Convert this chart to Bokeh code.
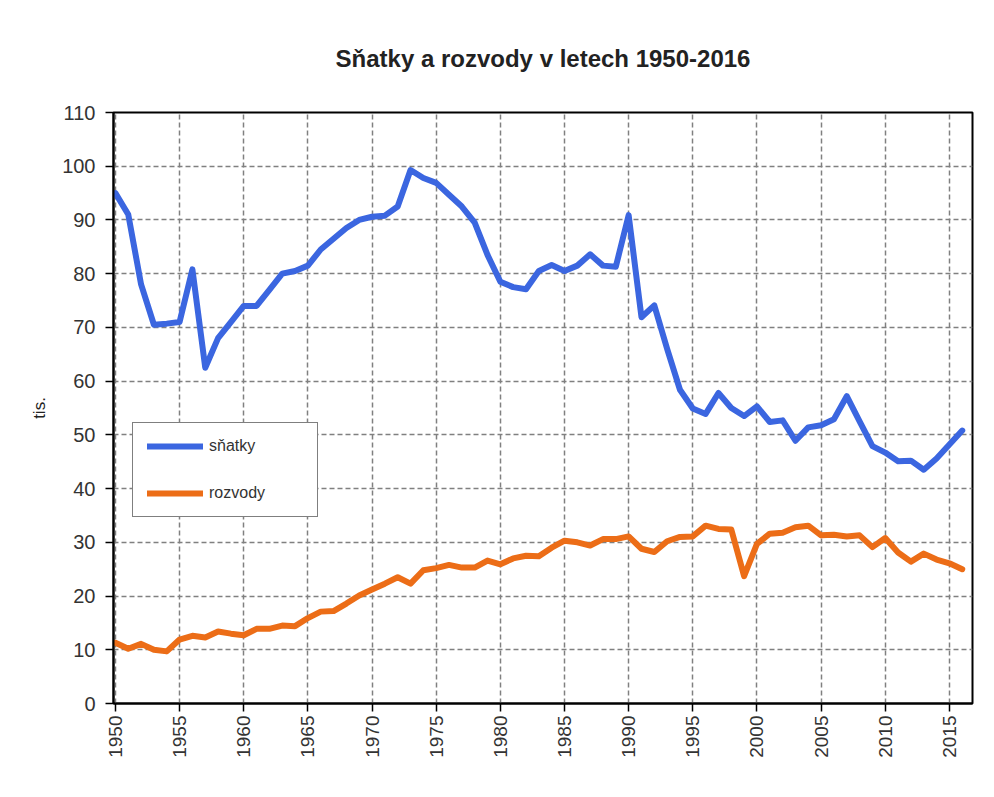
import math
from bokeh.plotting import figure
from bokeh.models import Legend, LegendItem, FixedTicker, Range1d, ColumnDataSource
from bokeh.embed import file_html
from bokeh.resources import INLINE

years = list(range(1950, 2017))
snatky = [95.0, 91.0, 78.0, 70.5, 70.7, 71.0, 80.8, 62.5, 68.0, 71.0,
          74.0, 74.0, 77.0, 80.0, 80.5, 81.5, 84.5, 86.5, 88.5, 90.0,
          90.6, 90.8, 92.5, 99.3, 97.8, 96.9, 94.7, 92.5, 89.5, 83.5,
          78.5, 77.5, 77.1, 80.5, 81.6, 80.5, 81.5, 83.6, 81.5, 81.3,
          90.9, 71.9, 74.1, 66.0, 58.4, 54.9, 53.9, 57.8, 55.0, 53.5,
          55.3, 52.4, 52.7, 48.9, 51.4, 51.8, 52.9, 57.2, 52.5, 47.9,
          46.7, 45.1, 45.2, 43.5, 45.6, 48.2, 50.8]
rozvody = [11.3, 10.2, 11.1, 10.0, 9.7, 11.9, 12.6, 12.3, 13.4, 13.0,
           12.7, 13.9, 13.9, 14.5, 14.4, 15.9, 17.1, 17.2, 18.6, 20.1,
           21.2, 22.3, 23.5, 22.3, 24.8, 25.2, 25.8, 25.3, 25.3, 26.6,
           25.9, 27.0, 27.5, 27.4, 29.0, 30.3, 30.0, 29.4, 30.6, 30.6,
           31.1, 28.8, 28.2, 30.2, 31.0, 31.1, 33.1, 32.5, 32.4, 23.7,
           29.7, 31.6, 31.8, 32.8, 33.1, 31.3, 31.4, 31.1, 31.3, 29.1,
           30.8, 28.1, 26.4, 27.9, 26.8, 26.1, 25.0]
x_ticks = list(range(1950, 2016, 5))
y_ticks = list(range(0, 111, 10))

src = ColumnDataSource(dict(year=years, snatky=snatky, rozvody=rozvody))

p = figure(width=978, height=781, output_backend="svg", toolbar_location=None,
           x_range=Range1d(1949.85, 2016.8), y_range=Range1d(0, 110),
           min_border_left=113, min_border_top=112, min_border_right=6,
           min_border_bottom=78)

p.title.text = "Sňatky a rozvody v letech 1950-2016"
p.title.align = "center"
p.title.text_font = "Liberation Sans"
p.title.text_font_style = "bold"
p.title.text_font_size = "24px"
p.title.text_color = "#222222"
p.title.standoff = 82

r1 = p.line("year", "snatky", source=src, line_color="#3b66e0", line_width=6,
            line_join="round", line_cap="round")
r2 = p.line("year", "rozvody", source=src, line_color="#ec6d17", line_width=6,
            line_join="round", line_cap="round")

p.outline_line_color = "black"
p.outline_line_width = 2
p.background_fill_color = "white"
p.border_fill_color = "white"

for ax in (p.xaxis[0], p.yaxis[0]):
    ax.axis_line_color = "black"
    ax.axis_line_width = 2
    ax.major_tick_line_color = "black"
    ax.major_tick_line_width = 1.5
    ax.major_tick_out = 8
    ax.major_tick_in = 0
    ax.minor_tick_line_color = None
    ax.major_label_text_font = "Liberation Sans"
    ax.major_label_text_color = "#333333"

p.xaxis.major_label_standoff = 4
p.yaxis.major_label_standoff = 10
p.xaxis.ticker = FixedTicker(ticks=x_ticks)
p.yaxis.ticker = FixedTicker(ticks=y_ticks)
p.xaxis.major_label_orientation = math.pi / 2
p.xaxis.major_label_text_font_size = "19px"
p.yaxis.major_label_text_font_size = "20px"
p.yaxis.axis_label = "tis."
p.yaxis.axis_label_text_font = "Liberation Sans"
p.yaxis.axis_label_text_font_style = "normal"
p.yaxis.axis_label_text_font_size = "17px"
p.yaxis.axis_label_text_color = "#222222"
p.yaxis.axis_label_standoff = 10

for g in (p.xgrid[0], p.ygrid[0]):
    g.grid_line_color = "#808080"
    g.grid_line_width = 1.5
    g.grid_line_dash = "5 3"

legend = Legend(items=[LegendItem(label="sňatky", renderers=[r1]),
                       LegendItem(label="rozvody", renderers=[r2])],
                location=(19, 186), orientation="vertical",
                padding=14, spacing=29, glyph_width=56, glyph_height=18,
                label_height=18, label_width=94, label_standoff=6,
                label_text_font="Liberation Sans", label_text_font_size="16px",
                label_text_color="#333333",
                border_line_color="black", border_line_width=1.5,
                background_fill_color="white", background_fill_alpha=1)
p.add_layout(legend)

open("out.html", "w").write(file_html(p, INLINE))
